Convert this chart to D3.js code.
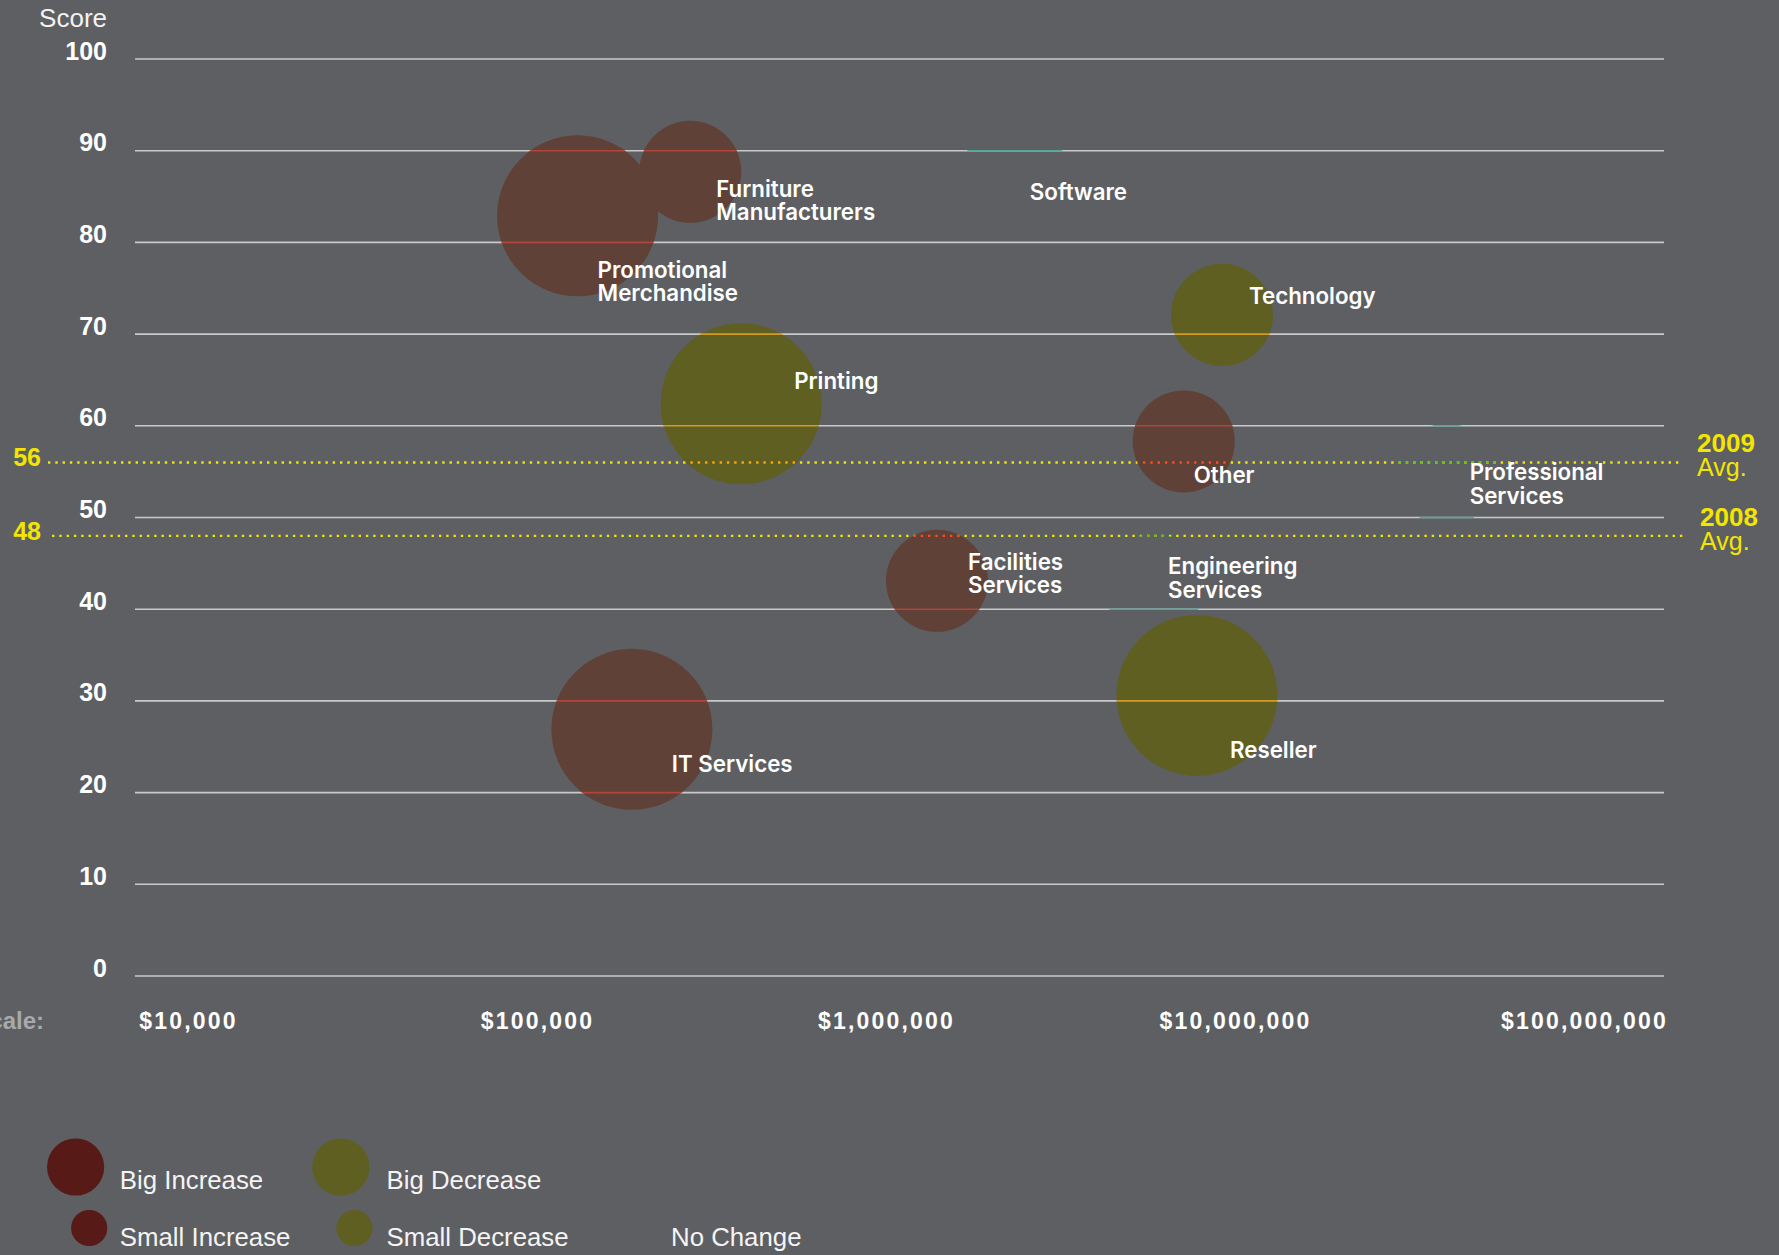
<!DOCTYPE html>
<html>
<head>
<meta charset="utf-8">
<script src="https://cdn.jsdelivr.net/npm/d3@7/dist/d3.min.js"></script>
<style>
  html, body { margin: 0; padding: 0; background: #5e5f62; }
  svg { display: block; }
</style>
</head>
<body>
<svg id="chart" width="1779" height="1255"></svg>
<script>
// Industry bubbles: annual sales (log x), satisfaction score (y), change vs. last year
const industries = ["Promotional Merchandise", "Furniture Manufacturers", "Software", "Technology", "Printing", "Other",
                    "Professional Services", "Facilities Services", "Engineering Services", "IT Services", "Reseller"];
const labelLines = [["Promotional", "Merchandise"], ["Furniture", "Manufacturers"], ["Software"], ["Technology"], ["Printing"], ["Other"],
                    ["Professional", "Services"], ["Facilities", "Services"], ["Engineering", "Services"], ["IT Services"], ["Reseller"]];
const sales = [130700, 274900, 2340000, 9180000, 384600, 7130000, 40400000, 1400000, 5860000, 187000, 7780000];
const scores = [82.9, 87.7, 88.0, 72.1, 62.4, 58.3, 54.7, 43.1, 42.7, 26.9, 30.6];
const changes = ["Big Increase", "Small Increase", "No Change", "Small Decrease", "Big Decrease", "Small Increase",
                 "No Change", "Small Increase", "No Change", "Big Increase", "Big Decrease"];

// Axes
const scoreTicks = [0, 10, 20, 30, 40, 50, 60, 70, 80, 90, 100];
const salesTicks = [1e4, 1e5, 1e6, 1e7, 1e8];

// Yearly averages
const avgYears = ["2009", "2008"];
const avgScores = [56, 48];

// Legend
const legendItems = ["Big Increase", "Big Decrease", "Small Increase", "Small Decrease", "No Change"];

// ---- layout ----
const W = 1779, H = 1255;
const gridX0 = 135, gridX1 = 1664;
const x = d3.scaleLog().domain([1e4, 1e8]).range([188, 1584]);
const y = d3.scaleLinear().domain([0, 100]).range([976, 59]);

const radius = d3.scaleOrdinal()
  .domain(["Big Increase", "Big Decrease", "Small Increase", "Small Decrease", "No Change"])
  .range([80.5, 80.5, 51, 51, 51]);
const fill = d3.scaleOrdinal()
  .domain(["Big Increase", "Big Decrease", "Small Increase", "Small Decrease", "No Change"])
  .range(["#5f4137", "#5f5f21", "#5f4137", "#5f5f21", "none"]);
const legendFill = d3.scaleOrdinal()
  .domain(["Big Increase", "Big Decrease", "Small Increase", "Small Decrease", "No Change"])
  .range(["#571a16", "#5f5f21", "#571a16", "#5f5f21", "none"]);
// colour that rules take on where they pass under a bubble
const tintKey = c => c.includes("Increase") ? "inc" : c.includes("Decrease") ? "dec" : "none";
const gridTint = { inc: "#b4443a", dec: "#d29a26", none: "#55a79c" };
const dotTint = { inc: "#ff4b1e", dec: "#ffa400", none: "#58c21b" };

// label placement relative to bubble centre
const labelOffset = {
  "Promotional Merchandise": [20, 62], "Furniture Manufacturers": [26, 25], "Software": [15, 31],
  "Technology": [27, -11], "Printing": [53, -15], "Other": [10, 42], "Professional Services": [23, 6],
  "Facilities Services": [31, -11], "Engineering Services": [14, -10], "IT Services": [40, 43], "Reseller": [33, 63]
};

const svg = d3.select("#chart");
svg.append("rect").attr("width", W).attr("height", H).attr("fill", "#5e5f62");

const bubbles = industries.map((name, i) => ({
  name, lines: labelLines[i], sales: sales[i], score: scores[i], change: changes[i],
  cx: x(sales[i]), cy: y(scores[i]), r: radius(changes[i]), tint: tintKey(changes[i])
}));

// clip regions per tint
const defs = svg.append("defs");
["inc", "dec", "none"].forEach(k => {
  defs.append("clipPath").attr("id", "clip-" + k)
    .selectAll("circle").data(bubbles.filter(b => b.tint === k)).join("circle")
    .attr("cx", d => d.cx).attr("cy", d => d.cy).attr("r", d => d.r);
});

function drawGrid(g, color) {
  g.selectAll("line").data(scoreTicks).join("line")
    .attr("x1", gridX0).attr("x2", gridX1)
    .attr("y1", d => y(d)).attr("y2", d => y(d))
    .attr("stroke", color).attr("stroke-width", 1.6);
}
function drawAvg(g, color) {
  g.selectAll("line").data(avgScores).join("line")
    .attr("x1", (d, i) => i === 0 ? 48 : 52).attr("x2", (d, i) => i === 0 ? 1682 : 1685)
    .attr("y1", d => y(d)).attr("y2", d => y(d))
    .attr("stroke", color).attr("stroke-width", 2.4)
    .attr("stroke-dasharray", "2.4 4.9");
}

drawGrid(svg.append("g"), "#c9c9c9");
drawAvg(svg.append("g"), "#f2e600");

// bubbles
svg.append("g").selectAll("circle").data(bubbles.filter(b => b.tint !== "none")).join("circle")
  .attr("cx", d => d.cx).attr("cy", d => d.cy).attr("r", d => d.r)
  .attr("fill", d => fill(d.change));

// tinted rules inside bubbles
["inc", "dec", "none"].forEach(k => {
  drawGrid(svg.append("g").attr("clip-path", `url(#clip-${k})`), gridTint[k]);
  drawAvg(svg.append("g").attr("clip-path", `url(#clip-${k})`), dotTint[k]);
});

// y axis
const yAxis = d3.axisLeft(y).tickValues(scoreTicks).tickSize(0).tickPadding(0).tickFormat(d3.format("d"));
const yg = svg.append("g").attr("transform", "translate(107,0)").call(yAxis);
yg.select(".domain").remove();
yg.selectAll("text").attr("dy", 0).attr("fill", "#ffffff")
  .style("font-family", "'Liberation Sans', Arial, sans-serif").style("font-weight", "bold").style("font-size", "25px");

svg.append("text").attr("x", 107).attr("y", 27).attr("text-anchor", "end")
  .attr("fill", "#f2f2f2").style("font-family", "'Liberation Sans', Arial, sans-serif").style("font-size", "26px")
  .text("Score");

// x axis
const xAxis = d3.axisBottom(x).tickValues(salesTicks).tickSize(0).tickPadding(0).tickFormat(d3.format("$,"));
const xg = svg.append("g").attr("transform", "translate(0,1029)").call(xAxis);
xg.select(".domain").remove();
xg.selectAll("text").attr("dy", 0).attr("y", 0).attr("fill", "#ffffff")
  .style("font-family", "'Liberation Sans', Arial, sans-serif").style("font-weight", "bold").style("font-size", "23px")
  .style("letter-spacing", "2.2px");

svg.append("text").attr("x", 44).attr("y", 1029).attr("text-anchor", "end")
  .attr("fill", "#a8a9ab").style("font-family", "'Liberation Sans', Arial, sans-serif")
  .style("font-weight", "bold").style("font-size", "24px").text("Sales Scale:");

// average labels
const avgG = svg.append("g").style("font-family", "'Liberation Sans', Arial, sans-serif").attr("fill", "#f2e600");
avgScores.forEach((v, i) => {
  avgG.append("text").attr("x", 41).attr("y", y(v) + 4).attr("text-anchor", "end")
    .style("font-weight", "bold").style("font-size", "25px").text(v);
  const lx = i === 0 ? 1697 : 1700;
  const t = avgG.append("text").attr("x", lx).attr("y", y(v) - 10);
  t.append("tspan").attr("x", lx).style("font-weight", "bold").style("font-size", "26px").text(avgYears[i]);
  t.append("tspan").attr("x", lx).attr("dy", 24).style("font-size", "25px").text("Avg.");
});

// bubble labels
const lab = svg.append("g").attr("fill", "#ffffff")
  .style("font-family", "Inter, 'Open Sans', sans-serif").style("font-weight", 600).style("font-size", "22.3px");
bubbles.forEach(b => {
  const [dx, dy] = labelOffset[b.name];
  const t = lab.append("text").attr("x", b.cx + dx).attr("y", b.cy + dy);
  b.lines.forEach((ln, j) => t.append("tspan").attr("x", b.cx + dx).attr("dy", j === 0 ? 0 : 23.5).text(ln));
});

// legend
const legendPos = {
  "Big Increase": [75.6, 1167, 119.8, 1189], "Big Decrease": [340.8, 1167, 386.5, 1189],
  "Small Increase": [89.2, 1228, 119.8, 1246], "Small Decrease": [354.4, 1228, 386.5, 1246],
  "No Change": [640, 1228, 671, 1246]
};
const lg = svg.append("g");
legendItems.forEach(item => {
  const [cx, cy, tx, ty] = legendPos[item];
  lg.append("circle").attr("cx", cx).attr("cy", cy).attr("r", radius(item) * 0.355)
    .attr("fill", legendFill(item));
  lg.append("text").attr("x", tx).attr("y", ty).attr("fill", "#f4f4f4")
    .style("font-family", "'Liberation Sans', Arial, sans-serif").style("font-size", "25.8px").text(item);
});
</script>
</body>
</html>
